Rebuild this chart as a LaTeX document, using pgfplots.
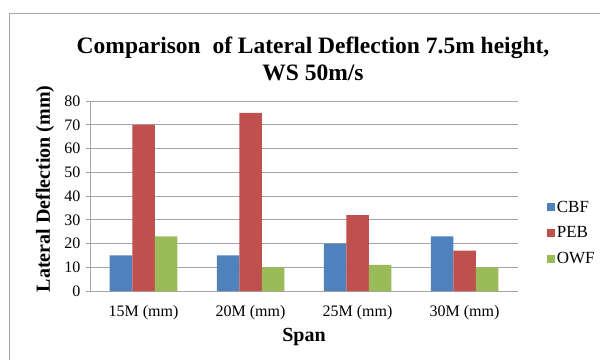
\documentclass[border=0pt]{standalone}
\usepackage{pgfplots}
\pgfplotsset{compat=1.18}
\usepackage{fontspec}
\setmainfont{Liberation Serif}
\definecolor{cbf}{HTML}{4F81BD}
\definecolor{peb}{HTML}{C0504D}
\definecolor{owf}{HTML}{9BBB59}
\definecolor{gridc}{HTML}{A6A6A6}
\begin{document}
\begin{tikzpicture}
\useasboundingbox (0pt,0pt) rectangle (600pt,-359pt);
\fill[white] (0pt,0pt) rectangle (600pt,-359pt);
\draw[gridc, line width=1pt] (9.5pt,-362pt) -- (9.5pt,-13.5pt) -- (603pt,-13.5pt);
\node[font=\bfseries\fontsize{23.5}{27}\selectfont, align=center] at (313pt,-58.5pt)
  {Comparison\ \ of Lateral Deflection 7.5m height,\\WS 50m/s};
\begin{axis}[
  at={(90pt,-291pt)}, anchor=south west,
  scale only axis, width=428pt, height=190pt,
  ymin=0, ymax=80, ytick={0,10,...,80},
  xmin=-0.5, xmax=3.5, xtick={0,1,2,3},
  xticklabels={15M (mm),20M (mm),25M (mm),30M (mm)},
  ybar=0pt, bar width=22.5pt,
  ymajorgrids, grid style={gridc, line width=0.8pt},
  axis x line*=bottom, axis y line*=left,
  axis line style={gridc, line width=0.8pt},
  tick style={gridc, line width=0.8pt},
  x tick style={draw=none},
  tick align=outside, major tick length=4pt,
  ticklabel style={font=\fontsize{16}{18}\selectfont},
  /pgf/number format/assume math mode=true,
  xticklabel style={yshift=-7pt},
  yticklabel style={xshift=-2pt},
  xlabel={Span},
  ylabel={Lateral Deflection (mm)},
  label style={font=\bfseries\fontsize{20}{23}\selectfont},
  xlabel style={at={(axis description cs:0.5,-0.242)}, anchor=center},
  ylabel style={at={(axis description cs:-0.105,0.537)}, anchor=center, rotate=0},
  legend style={draw=none, fill=none, at={(1.06,0.305)}, anchor=west,
    font=\fontsize{17}{19}\selectfont, row sep=9pt,
    legend cell align=left},
  legend image code/.code={\fill[#1] (0pt,-4pt) rectangle (8pt,4pt);},
]
\addplot[fill=cbf, draw=none] coordinates {(0,15) (1,15) (2,20) (3,23)};
\addplot[fill=peb, draw=none] coordinates {(0,70) (1,75) (2,32) (3,17)};
\addplot[fill=owf, draw=none] coordinates {(0,23) (1,10) (2,11) (3,10)};
\legend{CBF,PEB,OWF}
\end{axis}
\end{tikzpicture}
\end{document}
